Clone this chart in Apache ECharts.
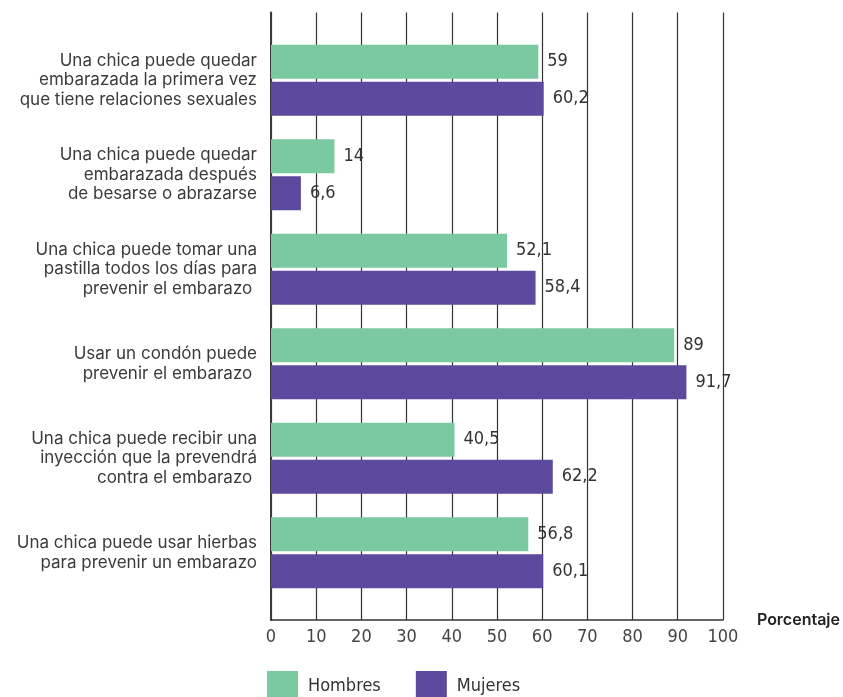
<!DOCTYPE html>
<html>
<head>
<meta charset="utf-8">
<script src="https://cdn.jsdelivr.net/npm/echarts@6/dist/echarts.min.js"></script>
<style>
  html, body { margin: 0; padding: 0; background: #fff; }
  #chart { width: 843px; height: 697px; }
</style>
</head>
<body>
<div id="chart"></div>
<script>
const categories = [
  "Una chica puede quedar\nembarazada la primera vez\nque tiene relaciones sexuales",
  "Una chica puede quedar\nembarazada después\nde besarse o abrazarse",
  "Una chica puede tomar una\npastilla todos los días para\nprevenir el embarazo ",
  "Usar un condón puede\nprevenir el embarazo ",
  "Una chica puede recibir una\ninyección que la prevendrá\ncontra el embarazo ",
  "Una chica puede usar hierbas\npara prevenir un embarazo"
];
const hombres = [59, 14, 52.1, 89, 40.5, 56.8];
const mujeres = [60.2, 6.6, 58.4, 91.7, 62.2, 60.1];
const xTicks = { min: 0, max: 100, interval: 10 };
const seriesNames = ["Hombres", "Mujeres"];
const colors = ["#7bc9a0", "#5b4a9e"];

const narrow = "'Liberation Sans Narrow', 'DejaVu Sans Condensed', 'Roboto', sans-serif";
const fmt = p => String(p.value).replace('.', ',');

const chart = echarts.init(document.getElementById('chart'), null, { renderer: 'canvas' });
chart.setOption({
  animation: false,
  color: colors,
  grid: [
    { left: 271, right: 119, top: 12.5, bottom: 77 },
    { left: 271, right: 119, top: 33, bottom: 97 }
  ],
  legend: {
    data: seriesNames,
    left: 262,
    top: 666,
    itemWidth: 31,
    itemHeight: 31,
    itemGap: 35,
    icon: 'rect',
    textStyle: { fontFamily: narrow, fontSize: 18, color: '#333', padding: [0, 0, 0, 5] }
  },
  xAxis: [
    {
      gridIndex: 0, type: 'value', min: xTicks.min, max: xTicks.max, interval: xTicks.interval,
      name: 'Porcentaje', nameLocation: 'end', nameGap: 34,
      nameTextStyle: { fontFamily: 'Inter', fontSize: 16, fontWeight: 600, color: '#222' },
      axisLine: { show: true, lineStyle: { color: '#333', width: 1.5 } },
      axisTick: { show: false },
      axisLabel: { fontFamily: narrow, fontSize: 18, color: '#444', margin: 8 },
      splitLine: { show: true, lineStyle: { color: '#333', width: 1.2 } }
    },
    {
      gridIndex: 1, type: 'value', min: xTicks.min, max: xTicks.max, show: false
    }
  ],
  yAxis: [
    {
      gridIndex: 0, type: 'value', min: 0, max: 1,
      axisLine: { show: true, lineStyle: { color: '#3a3a3a', width: 2 } },
      axisTick: { show: false }, axisLabel: { show: false }, splitLine: { show: false }
    },
    {
      gridIndex: 1, type: 'category', data: categories, inverse: true,
      axisLine: { show: false }, axisTick: { show: false },
      axisLabel: {
        fontFamily: 'Inter', fontSize: 17, color: '#3a3a3a', lineHeight: 19.5,
        margin: 14, align: 'right'
      }
    }
  ],
  series: [
    {
      name: seriesNames[0], type: 'bar', xAxisIndex: 1, yAxisIndex: 1,
      data: hombres, barWidth: 34, barGap: '9%',
      label: { show: true, position: 'right', distance: 9, formatter: fmt,
        fontFamily: narrow, fontSize: 18, color: '#333' }
    },
    {
      name: seriesNames[1], type: 'bar', xAxisIndex: 1, yAxisIndex: 1,
      data: mujeres, barWidth: 34, barGap: '9%',
      label: { show: true, position: 'right', distance: 9, formatter: fmt,
        fontFamily: narrow, fontSize: 18, color: '#333' }
    }
  ]
});
</script>
</body>
</html>
